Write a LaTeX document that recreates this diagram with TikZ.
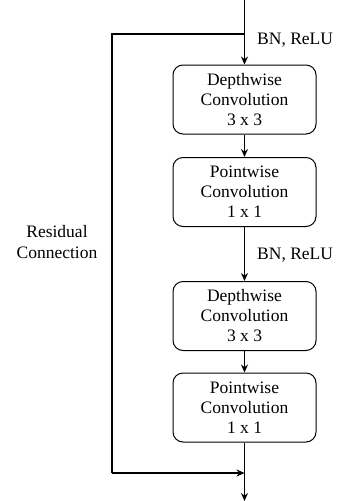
\documentclass[tikz,border=0pt]{standalone}
\usepackage{fontspec}
\setmainfont{Liberation Serif}
\usetikzlibrary{arrows.meta}
\begin{document}
\begin{tikzpicture}[x=1pt,y=-1pt,
  convbox/.style={draw, line width=1pt, rounded corners=10pt, minimum width=143pt, minimum height=69pt, align=center, font=\fontsize{17.5}{20}\selectfont, inner sep=0pt},
  lbl/.style={font=\fontsize{17.5}{21}\selectfont, inner sep=0pt, align=center},
  conn/.style={line width=1.4pt, -{Stealth[length=8pt,width=7pt]}},
  plain/.style={line width=1.4pt}]
\useasboundingbox (0,0) rectangle (340,501);
\node[convbox] (b1) at (244.5,99.5) {Depthwise\\Convolution\\3 x 3};
\node[convbox] (b2) at (244.5,192) {Pointwise\\Convolution\\1 x 1};
\node[convbox] (b3) at (244.5,316) {Depthwise\\Convolution\\3 x 3};
\node[convbox] (b4) at (244.5,407.5) {Pointwise\\Convolution\\1 x 1};
\coordinate (in) at (244.5,0);
\coordinate (split) at (244.5,34);
\coordinate (tl) at (112,34);
\coordinate (bl) at (112,473);
\coordinate (merge) at (244.5,473);
\coordinate (out) at (244.5,501);
\draw[conn] (in) -- (b1.north);
\draw[plain] (split) -- (tl) -- (bl);
\draw[conn] (bl) -- (merge);
\draw[conn] (b1.south) -- (b2.north);
\draw[conn] (b2.south) -- (b3.north);
\draw[conn] (b3.south) -- (b4.north);
\draw[conn] (b4.south) -- (out);
\node[lbl, anchor=west] (l1) at (257,40) {BN, ReLU};
\node[lbl, anchor=west] (l2) at (257,255) {BN, ReLU};
\node[lbl] (res) at (57,242) {Residual\\Connection};
\end{tikzpicture}
\end{document}
